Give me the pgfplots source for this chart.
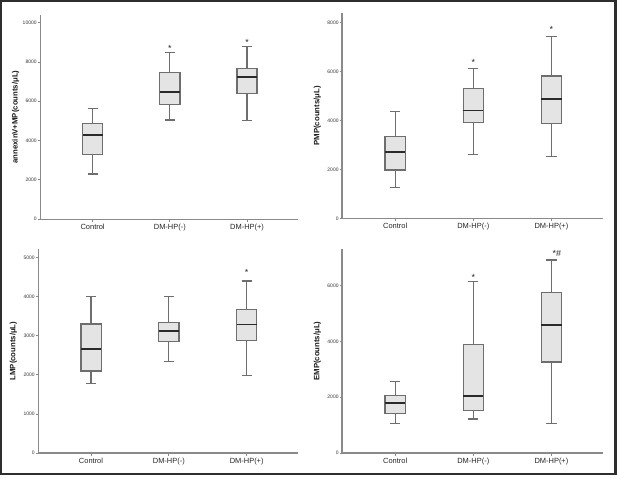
\documentclass[border=0pt]{standalone}
\usepackage{pgfplots}
\pgfplotsset{compat=1.18}
\usepgfplotslibrary{statistics}
\usepackage{fontspec}
\setmainfont{Liberation Sans}
\definecolor{axgray}{HTML}{8A8A8A}
\definecolor{boxedge}{HTML}{6E6E6E}
\definecolor{boxfill}{HTML}{E4E4E4}
\definecolor{medcol}{HTML}{2A2A2A}
\definecolor{framecol}{HTML}{2E2E2E}
\pgfplotsset{
  mbox/.style={
    scale only axis,
    anchor=south west,
    axis x line=bottom, axis y line=left,
    axis line style={-, draw=axgray, line width=1.1bp},
    xmin=0.32, xmax=3.66, ymin=0,
    xtick={1,2,3},
    xticklabels={Control, DM-HP(-), DM-HP(+)},
    xticklabel style={font=\fontsize{7.5}{9}\selectfont, text=black!85, inner sep=1bp, yshift=-1.5bp},
    yticklabel style={font=\fontsize{5}{6}\selectfont, text=black!80, inner sep=0.8bp},
    /pgf/number format/assume math mode=true,
    /pgf/number format/set thousands separator={},
    scaled y ticks=false,
    tick style={draw=axgray, line width=0.8bp},
    major tick length=2.5bp,
    tick align=outside,
    ylabel style={at={(axis description cs:-0.095,0.5)}, anchor=center, font=\bfseries\fontsize{7.8}{9}\selectfont, text=black!90},
    clip=false,
    boxplot/draw direction=y,
    boxplot/every median/.style={draw=medcol, line width=1.8bp},
    boxplot/box extend=0.26,
    boxplot/whisker extend=0.13,
  },
  bstyle/.style={draw=boxedge, fill=boxfill, line width=1.25bp, solid},
  stars/.style={only marks, mark=none, nodes near coords, point meta=explicit symbolic,
    every node near coord/.append style={anchor=center, font=\fontsize{9}{10}\selectfont, text=black!85, inner sep=0pt}},
}
\begin{document}
\begin{tikzpicture}
\path (0,0) rectangle (617bp,477bp);
\draw[framecol, line width=2.2bp] (1bp,3bp) rectangle (615.5bp,476bp);

% Panel 1
\begin{axis}[mbox, at={(40bp,258bp)}, width=258bp, height=204bp, ymax=10390,
  ytick={0,2000,4000,6000,8000,10000}, ylabel={annexinV+MP(counts/μL)}]
\addplot[bstyle, boxplot prepared={draw position=1, lower whisker=2290, lower quartile=3270, median=4290, upper quartile=4880, upper whisker=5640}] coordinates {};
\addplot[bstyle, boxplot prepared={draw position=2, lower whisker=5050, lower quartile=5850, median=6490, upper quartile=7470, upper whisker=8470}] coordinates {};
\addplot[bstyle, boxplot prepared={draw position=3, lower whisker=5020, lower quartile=6410, median=7220, upper quartile=7680, upper whisker=8780}] coordinates {};
\addplot[stars] coordinates {(2,8680) [*] (3,8980) [*]};
\end{axis}

% Panel 2
\begin{axis}[mbox, at={(342bp,258.7bp)}, width=261bp, height=205bp, ymax=8380,
  ytick={0,2000,4000,6000,8000}, ylabel={PMP(counts/μL)}]
\addplot[bstyle, boxplot prepared={draw position=1, lower whisker=1270, lower quartile=1980, median=2710, upper quartile=3340, upper whisker=4360}] coordinates {};
\addplot[bstyle, boxplot prepared={draw position=2, lower whisker=2600, lower quartile=3920, median=4410, upper quartile=5300, upper whisker=6130}] coordinates {};
\addplot[bstyle, boxplot prepared={draw position=3, lower whisker=2520, lower quartile=3870, median=4890, upper quartile=5820, upper whisker=7450}] coordinates {};
\addplot[stars] coordinates {(2,6380) [*] (3,7740) [*]};
\end{axis}

% Panel 3
\begin{axis}[mbox, at={(38bp,24bp)}, width=260bp, height=204bp, ymax=5220,
  ytick={0,1000,2000,3000,4000,5000}, ylabel={LMP(counts/μL)}]
\addplot[bstyle, boxplot prepared={draw position=1, lower whisker=1770, lower quartile=2100, median=2670, upper quartile=3300, upper whisker=4000}] coordinates {};
\addplot[bstyle, boxplot prepared={draw position=2, lower whisker=2340, lower quartile=2860, median=3120, upper quartile=3350, upper whisker=4000}] coordinates {};
\addplot[bstyle, boxplot prepared={draw position=3, lower whisker=1990, lower quartile=2880, median=3290, upper quartile=3680, upper whisker=4400}] coordinates {};
\addplot[stars] coordinates {(3,4610) [*]};
\end{axis}

% Panel 4
\begin{axis}[mbox, at={(342bp,24bp)}, width=261bp, height=204bp, ymax=7310,
  ytick={0,2000,4000,6000}, ylabel={EMP(counts/μL)}]
\addplot[bstyle, boxplot prepared={draw position=1, lower whisker=1050, lower quartile=1430, median=1790, upper quartile=2050, upper whisker=2550}] coordinates {};
\addplot[bstyle, boxplot prepared={draw position=2, lower whisker=1220, lower quartile=1530, median=2040, upper quartile=3880, upper whisker=6150}] coordinates {};
\addplot[bstyle, boxplot prepared={draw position=3, lower whisker=1070, lower quartile=3260, median=4580, upper quartile=5760, upper whisker=6920}] coordinates {};
\addplot[stars] coordinates {(2,6290) [*] (3.07,7150) [*\#]};
\end{axis}
\end{tikzpicture}
\end{document}
